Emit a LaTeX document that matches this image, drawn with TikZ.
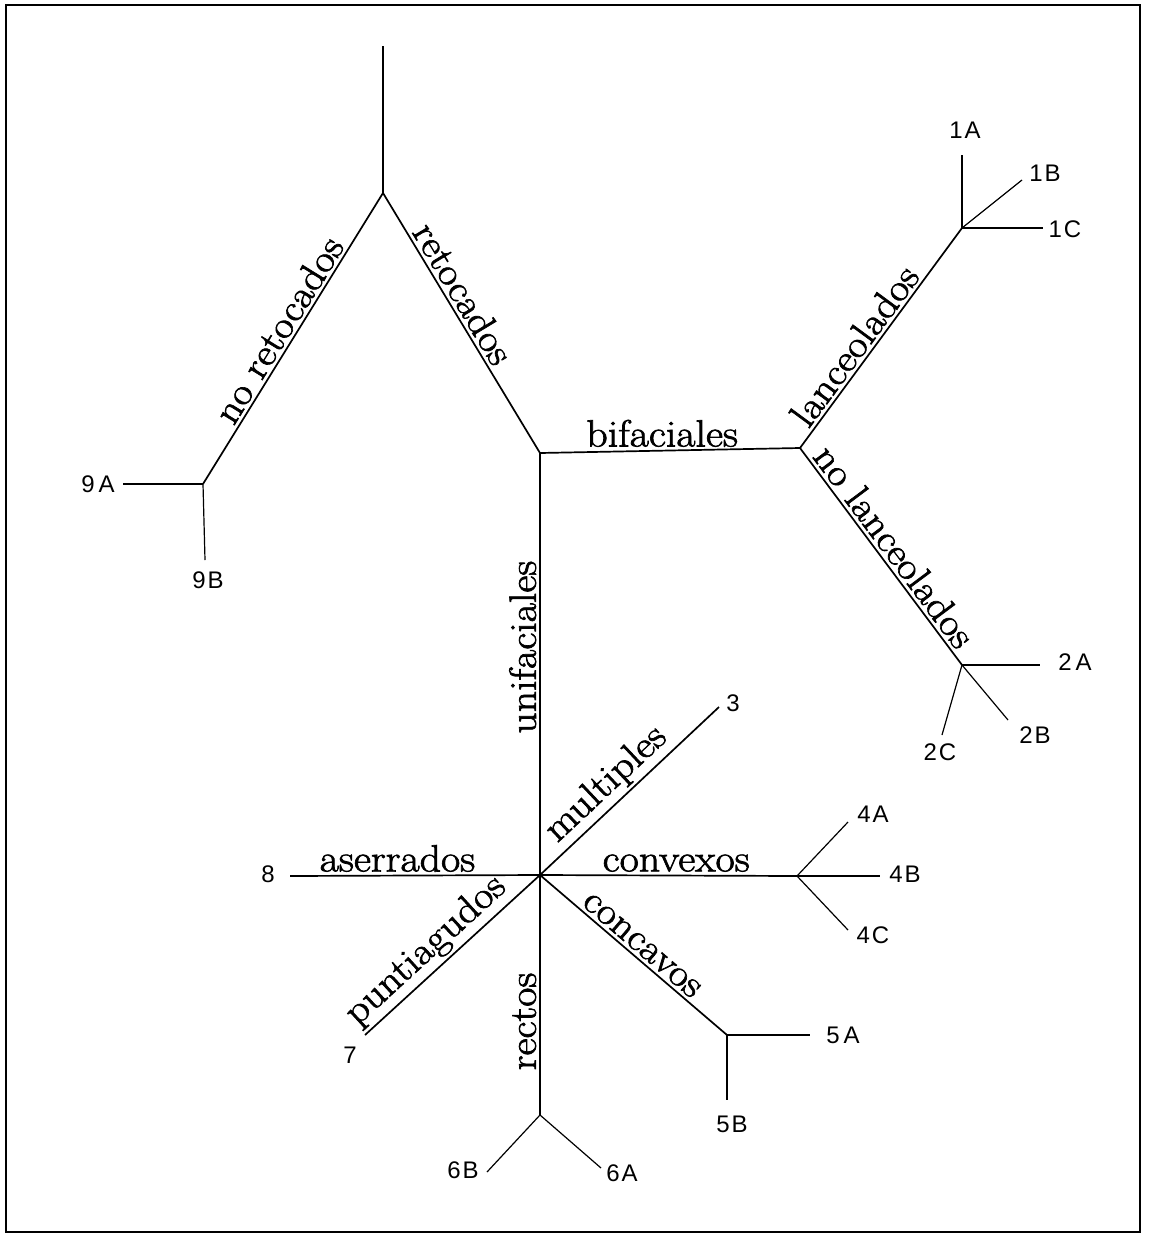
\documentclass[tikz,border=0pt]{standalone}
\usepackage{fontspec}
\newfontfamily\labfont[FakeStretch=1.1,FakeBold=1.8]{Latin Modern Roman}
\newfontfamily\numfont[LetterSpace=8]{Liberation Sans}
\begin{document}
\begin{tikzpicture}[x=1pt,y=-1pt,
  main/.style={line width=1.7pt},
  twig/.style={line width=1.2pt},
  lab/.style={font=\labfont\fontsize{38}{38}\selectfont, inner sep=3pt},
  num/.style={font=\numfont\fontsize{24}{24}\selectfont, inner sep=1pt}]
\useasboundingbox (0,0) rectangle (1155,1237);
\draw[line width=2pt] (6,5) rectangle (1140,1232);

% junctions
\coordinate (top)   at (383,46);
\coordinate (fork)  at (383,193);
\coordinate (n9)    at (203,484);
\coordinate (ret)   at (540,453);
\coordinate (bif)   at (800,448);
\coordinate (n1)    at (962,228);
\coordinate (n2)    at (962,665);
\coordinate (uni)   at (540,875);
\coordinate (n4)    at (797,876);
\coordinate (n5)    at (727,1035);
\coordinate (n6)    at (540,1115);

% free ends
\coordinate (e9A) at (123,484);
\coordinate (e9B) at (205,560);
\coordinate (e1A) at (962,155);
\coordinate (e1B) at (1022,180);
\coordinate (e1C) at (1043,228);
\coordinate (e2A) at (1040,665);
\coordinate (e2B) at (1008,720);
\coordinate (e2C) at (942,735);
\coordinate (e3)  at (719,707);
\coordinate (e8)  at (290,876);
\coordinate (e7)  at (365,1035);
\coordinate (e4A) at (848,822);
\coordinate (e4B) at (880,876);
\coordinate (e4C) at (848,930);
\coordinate (e5A) at (810,1035);
\coordinate (e5B) at (727,1100);
\coordinate (e6B) at (487,1172);
\coordinate (e6A) at (601,1168);

% main branches with their labels
\draw[main] (top) -- (fork);
\draw[main] (n9) -- node[lab, sloped, above, pos=0.5] {no retocados} (fork);
\draw[main] (fork) -- node[lab, sloped, above, pos=0.42] {retocados} (ret);
\draw[main] (ret) -- node[lab, above, pos=0.47] {bifaciales} (bif);
\draw[main] (bif) -- node[lab, sloped, above, pos=0.42] {lanceolados} (n1);
\draw[main] (bif) -- node[lab, sloped, above, pos=0.5] {no lanceolados} (n2);
\draw[main] (uni) -- node[lab, sloped, above, pos=0.54] {unifaciales} (ret);
\draw[main] (uni) -- node[lab, sloped, above, pos=0.45] {multiples} (e3);
\draw[main] (e8) -- node[lab, above, pos=0.43] {aserrados} (uni);
\draw[main] (uni) -- node[lab, above, pos=0.53] {convexos} (n4);
\draw[main] (e7) -- node[lab, sloped, above, pos=0.43] {puntiagudos} (uni);
\draw[main] (n6) -- node[lab, sloped, above, pos=0.39] {rectos} (uni);
\draw[main] (uni) -- node[lab, sloped, above, pos=0.5] {concavos} (n5);

% terminal twigs
\draw[twig] (n9) -- (e9A);
\draw[twig] (n9) -- (e9B);
\draw[twig] (n1) -- (e1A);
\draw[twig] (n1) -- (e1B);
\draw[twig] (n1) -- (e1C);
\draw[twig] (n2) -- (e2A);
\draw[twig] (n2) -- (e2B);
\draw[twig] (n2) -- (e2C);
\draw[twig] (n4) -- (e4A);
\draw[twig] (n4) -- (e4B);
\draw[twig] (n4) -- (e4C);
\draw[twig] (n5) -- (e5A);
\draw[twig] (n5) -- (e5B);
\draw[twig] (n6) -- (e6B);
\draw[twig] (n6) -- (e6A);

% end labels
\node[num] (l9A) at (98,484)   {9\,A};
\node[num] (l9B) at (208,580)  {9B};
\node[num] (l1A) at (965,130)  {1A};
\node[num] (l1B) at (1045,173) {1B};
\node[num] (l1C) at (1065,229) {1C};
\node[num] (l2A) at (1075,662) {2\,A};
\node[num] (l2B) at (1035,735) {2B};
\node[num] (l2C) at (940,752)  {2C};
\node[num] (l3)  at (733,703)  {3};
\node[num] (l8)  at (268,874)  {8};
\node[num] (l7)  at (350,1055) {7};
\node[num] (l4A) at (873,814)  {4A};
\node[num] (l4B) at (905,874)  {4B};
\node[num] (l4C) at (873,935)  {4C};
\node[num] (l5A) at (843,1035) {5\,A};
\node[num] (l5B) at (732,1124) {5B};
\node[num] (l6B) at (463,1170) {6B};
\node[num] (l6A) at (622,1173) {6A};
\end{tikzpicture}
\end{document}
